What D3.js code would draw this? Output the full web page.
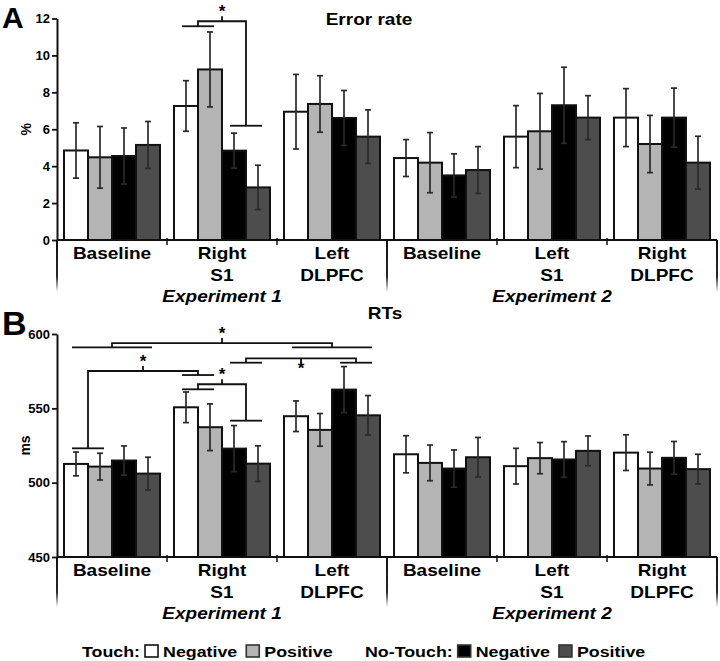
<!DOCTYPE html>
<html>
<head>
<meta charset="utf-8">
<script src="https://cdn.jsdelivr.net/npm/d3@7/dist/d3.min.js"></script>
<style>
  html, body { margin: 0; padding: 0; background: #fff; }
  svg text { font-family: "Liberation Sans", Arial, Helvetica, sans-serif; font-weight: bold; fill: #000; }
</style>
</head>
<body>
<svg id="chart" width="720" height="661"></svg>
<script>
// ---------------- DATA ----------------
const categories = [["Baseline"], ["Right", "S1"], ["Left", "DLPFC"], ["Baseline"], ["Left", "S1"], ["Right", "DLPFC"]];
const experiments = ["Experiment 1", "Experiment 2"];
const seriesNames = ["Touch Negative", "Touch Positive", "No-Touch Negative", "No-Touch Positive"];
const seriesColors = ["#ffffff", "#b4b4b4", "#000000", "#4d4d4d"];

// Panel A: error rate (%)
const errTouchNeg     = [4.85, 7.26, 6.95, 4.44, 5.60, 6.63];
const errTouchPos     = [4.48, 9.24, 7.37, 4.19, 5.89, 5.20];
const errNoTouchNeg   = [4.55, 4.84, 6.61, 3.50, 7.30, 6.63];
const errNoTouchPos   = [5.15, 2.85, 5.60, 3.79, 6.63, 4.19];
const errTouchNegSE   = [1.50, 1.37, 2.02, 1.00, 1.68, 1.57];
const errTouchPosSE   = [1.67, 2.03, 1.53, 1.63, 2.05, 1.55];
const errNoTouchNegSE = [1.52, 0.95, 1.49, 1.17, 2.06, 1.60];
const errNoTouchPosSE = [1.27, 1.20, 1.45, 1.27, 1.19, 1.43];
const errTicks = [0, 2, 4, 6, 8, 10, 12];

// Panel B: RTs (ms)
const rtTouchNeg     = [512.6, 550.7, 544.7, 519.1, 511.1, 520.2];
const rtTouchPos     = [510.8, 537.3, 535.5, 513.3, 516.5, 509.5];
const rtNoTouchNeg   = [514.9, 522.9, 562.6, 509.5, 515.6, 516.7];
const rtNoTouchPos   = [506.1, 512.8, 545.3, 517.1, 521.4, 509.1];
const rtTouchNegSE   = [8.0, 10.3, 10.3, 12.5, 12.0, 12.0];
const rtTouchPosSE   = [9.0, 15.7, 11.0, 12.0, 10.5, 11.0];
const rtNoTouchNegSE = [9.8, 15.5, 15.5, 12.5, 12.0, 11.0];
const rtNoTouchPosSE = [11.0, 12.0, 13.3, 13.3, 10.0, 10.0];
const rtTicks = [450, 500, 550, 600];

// significance brackets: [category, firstSeries, lastSeries] for each side; y values in data units
const errBrackets = [
  { from: [1, 0, 1], to: [1, 2, 3], yFrom: 11.58, yTop: 11.85, yTo: 6.19, star: "up" }
];
const rtBrackets = [
  { from: [0, 0, 3], to: [2, 0, 3], yFrom: 591.0, yTop: 593.9, yTo: 591.0, star: "up" },
  { from: [1, 2, 3], to: [2, 2, 3], yFrom: 580.7, yTop: 583.6, yTo: 580.7, star: "down" },
  { from: [0, 0, 1], to: [1, 0, 1], yFrom: 523.1, yTop: 575.1, yTo: 572.4, star: "up" },
  { from: [1, 0, 1], to: [1, 2, 3], yFrom: 562.8, yTop: 566.2, yTo: 541.7, star: "up" }
];

const legendGroups = [
  { label: "Touch:", items: [0, 1] },
  { label: "No-Touch:", items: [2, 3] }
];
const legendItemLabels = ["Negative", "Positive", "Negative", "Positive"];

// ---------------- LAYOUT ----------------
const svg = d3.select("#chart");
const SX = 1.12; // horizontal stretch of lettering in the original
const FONT = '"Liberation Sans", Arial, Helvetica, sans-serif';

function stext(g, x, y, str, opts = {}) {
  const t = g.append("text")
    .attr("transform", `translate(${x},${y}) scale(${opts.sx || SX},1)`)
    .attr("text-anchor", opts.anchor || "middle")
    .style("font-size", (opts.size || 17) + "px")
    .text(str);
  if (opts.italic) t.style("font-style", "italic");
  return t;
}

const x = d3.scaleBand().domain(d3.range(categories.length)).range([57, 717]).paddingInner(14 / 110).paddingOuter(7 / 110);
const xs = d3.scaleBand().domain(d3.range(seriesNames.length)).range([0, x.bandwidth()]);
const step = x.step();

const defs = svg.append("defs");
const grad = defs.append("linearGradient").attr("id", "fade").attr("x1", 0).attr("y1", 0).attr("x2", 0).attr("y2", 1);
grad.append("stop").attr("offset", "0").attr("stop-color", "#111").attr("stop-opacity", 1);
grad.append("stop").attr("offset", "0.7").attr("stop-color", "#111").attr("stop-opacity", 0.9);
grad.append("stop").attr("offset", "1").attr("stop-color", "#111").attr("stop-opacity", 0);

function barCenter(c, s) { return x(c) + xs(s) + xs.bandwidth() / 2; }

function drawPanel(opts) {
  const { y, values, ses, ticks, title, titleX, titleY, letter, letterY, letterSize, unit, brackets, labelDepth } = opts;
  const g = svg.append("g");
  const y0 = y.range()[0];
  const axisX = 57;

  // bars
  values.forEach((vals, s) => {
    g.selectAll(null).data(vals).enter().append("rect")
      .attr("x", (d, c) => x(c) + xs(s))
      .attr("y", d => y(d))
      .attr("width", xs.bandwidth())
      .attr("height", d => y0 - y(d))
      .attr("fill", seriesColors[s])
      .attr("stroke", "#111")
      .attr("stroke-width", 2);
  });
  // error bars
  values.forEach((vals, s) => {
    const eb = g.selectAll(null).data(vals.map((v, c) => ({ v, c, e: ses[s][c] }))).enter().append("g")
      .attr("stroke", "#2a2a2a").attr("stroke-width", 1.7);
    eb.append("line").attr("x1", d => barCenter(d.c, s)).attr("x2", d => barCenter(d.c, s))
      .attr("y1", d => y(d.v + d.e)).attr("y2", d => y(d.v - d.e));
    eb.append("line").attr("x1", d => barCenter(d.c, s) - 3).attr("x2", d => barCenter(d.c, s) + 3)
      .attr("y1", d => y(d.v + d.e)).attr("y2", d => y(d.v + d.e));
    eb.append("line").attr("x1", d => barCenter(d.c, s) - 3).attr("x2", d => barCenter(d.c, s) + 3)
      .attr("y1", d => y(d.v - d.e)).attr("y2", d => y(d.v - d.e));
  });

  // y axis
  const ax = g.append("g").attr("transform", `translate(${axisX},0)`)
    .call(d3.axisLeft(y).tickValues(ticks).tickSize(5).tickSizeOuter(0).tickPadding(2));
  ax.select(".domain").attr("stroke", "#111").attr("stroke-width", 2);
  ax.selectAll(".tick line").attr("stroke", "#111").attr("stroke-width", 1.8);
  ax.selectAll(".tick text").style("font-family", FONT).style("font-weight", "bold").style("font-size", "13px").attr("fill", "#000");

  // x axis line
  g.append("line").attr("x1", axisX).attr("x2", 717).attr("y1", y0).attr("y2", y0).attr("stroke", "#111").attr("stroke-width", 2);
  // small separators between categories
  d3.range(1, categories.length).forEach(c => {
    if (c === 3) return;
    const bx = x(c) - (step - x.bandwidth()) / 2;
    g.append("line").attr("x1", bx).attr("x2", bx).attr("y1", y0 - 2).attr("y2", y0 + 5).attr("stroke", "#111").attr("stroke-width", 1.5);
  });
  // long dividers (axis extension, between experiments, right end)
  const longX = [axisX, x(3) - (step - x.bandwidth()) / 2, 717];
  longX.forEach(lx => {
    g.append("rect").attr("x", lx - 1).attr("y", y0).attr("width", 2).attr("height", labelDepth).attr("fill", "url(#fade)");
  });

  // category labels
  categories.forEach((lines, c) => {
    const cx = x(c) + x.bandwidth() / 2;
    lines.forEach((ln, i) => stext(g, cx, y0 + 19 + i * 21.5, ln, { size: 17 }));
  });
  experiments.forEach((ex, i) => {
    const cx = x(1 + 3 * i) + x.bandwidth() / 2;
    stext(g, cx, y0 + 62, ex, { size: 17, italic: true });
  });

  // title and letters
  stext(g, titleX, titleY, title, { size: 17 });
  svg.append("text").attr("x", 2).attr("y", letterY).style("font-size", letterSize + "px").text(letter);
  g.append("text").attr("transform", `translate(${opts.unitX},${(y.range()[0] + y.range()[1]) / 2}) rotate(-90)`)
    .attr("text-anchor", "middle").style("font-size", "14px").text(unit);

  // brackets
  brackets.forEach(b => {
    const l1 = barCenter(b.from[0], b.from[1]) - 4, l2 = barCenter(b.from[0], b.from[2]) + 4;
    const r1 = barCenter(b.to[0], b.to[1]) - 4, r2 = barCenter(b.to[0], b.to[2]) + 4;
    const lm = (l1 + l2) / 2, rm = (r1 + r2) / 2, mid = (lm + rm) / 2;
    const bg = g.append("g").attr("fill", "none").attr("stroke", "#111").attr("stroke-width", 1.8);
    bg.append("line").attr("x1", l1).attr("x2", l2).attr("y1", y(b.yFrom)).attr("y2", y(b.yFrom));
    bg.append("line").attr("x1", r1).attr("x2", r2).attr("y1", y(b.yTo)).attr("y2", y(b.yTo));
    bg.append("path").attr("d", `M${lm},${y(b.yFrom)}V${y(b.yTop)}H${rm}V${y(b.yTo)}`);
    const dir = b.star === "up" ? -1 : 1;
    bg.append("line").attr("x1", mid).attr("x2", mid).attr("y1", y(b.yTop)).attr("y2", y(b.yTop) + dir * 5);
    g.append("text").attr("x", mid).attr("y", y(b.yTop) + (dir < 0 ? -4 : 16)).attr("text-anchor", "middle")
      .style("font-size", "17px").text("*");
  });
}

drawPanel({
  y: d3.scaleLinear().domain([0, 12]).range([240, 18.5]),
  values: [errTouchNeg, errTouchPos, errNoTouchNeg, errNoTouchPos],
  ses: [errTouchNegSE, errTouchPosSE, errNoTouchNegSE, errNoTouchPosSE],
  ticks: errTicks, title: "Error rate", titleX: 369, titleY: 25,
  letter: "A", letterY: 28, letterSize: 30, unit: "%", unitX: 31,
  brackets: errBrackets, labelDepth: 52
});

drawPanel({
  y: d3.scaleLinear().domain([450, 600]).range([557, 334]),
  values: [rtTouchNeg, rtTouchPos, rtNoTouchNeg, rtNoTouchPos],
  ses: [rtTouchNegSE, rtTouchPosSE, rtNoTouchNegSE, rtNoTouchPosSE],
  ticks: rtTicks, title: "RTs", titleX: 385, titleY: 319,
  letter: "B", letterY: 335, letterSize: 34, unit: "ms", unitX: 30,
  brackets: rtBrackets, labelDepth: 50
});

// legend
const lg = svg.append("g");
const legendY = 657;
const groupStarts = [82, 365];
legendGroups.forEach((grp, gi) => {
  let cx = groupStarts[gi];
  const t = stext(lg, cx, legendY, grp.label, { size: 15.5, anchor: "start", sx: 1.15 });
  cx += t.node().getComputedTextLength() * 1.15 + 5;
  grp.items.forEach((si, k) => {
    lg.append("rect").attr("x", cx).attr("y", legendY - 12).attr("width", 13).attr("height", 12)
      .attr("fill", seriesColors[si]).attr("stroke", si === 0 ? "#111" : "#333").attr("stroke-width", 1.6);
    cx += 18;
    const tt = stext(lg, cx, legendY, legendItemLabels[si], { size: 15.5, anchor: "start", sx: 1.15 });
    cx += tt.node().getComputedTextLength() * 1.15 + 9;
  });
});
</script>
</body>
</html>
